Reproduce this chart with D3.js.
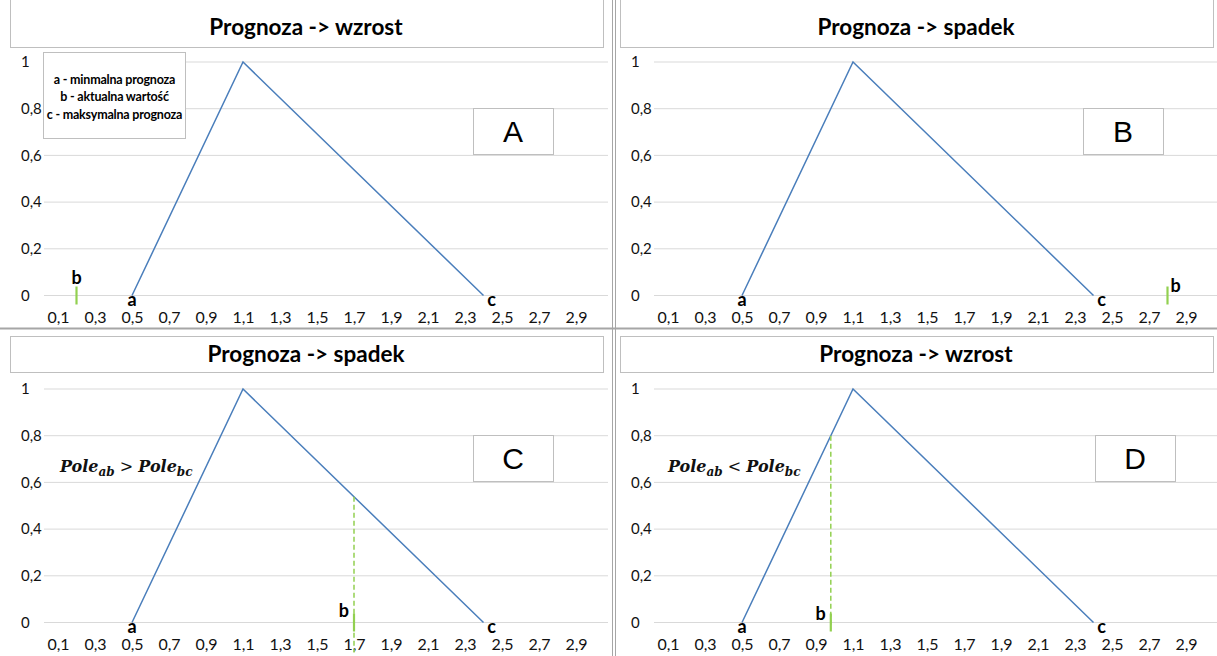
<!DOCTYPE html>
<html><head><meta charset="utf-8">
<script src="https://cdn.jsdelivr.net/npm/d3@7"></script>
<style>
body{margin:0;background:#fff;}
svg{display:block;font-family:Lato,"Open Sans",sans-serif;}
</style></head><body>
<svg id="chart" width="1217" height="656"></svg>
<script>
// Four triangular forecast charts (a = min, peak, c = max) with the current value b.
const panelTitles = ["Prognoza -> wzrost", "Prognoza -> spadek", "Prognoza -> spadek", "Prognoza -> wzrost"];
const panelLetters = ["A", "B", "C", "D"];
const curveX = [0.5, 1.1, 2.4];
const curveY = [0, 1, 0];
const pointNames = ["a", "", "c"];
const bValues = [0.2, 2.8, 1.7, 0.98];
const bDropLine = [false, false, true, true];
const xTickValues = [0.1, 0.3, 0.5, 0.7, 0.9, 1.1, 1.3, 1.5, 1.7, 1.9, 2.1, 2.3, 2.5, 2.7, 2.9];
const yTickValues = [0, 0.2, 0.4, 0.6, 0.8, 1];
const legendLines = ["a - minmalna prognoza", "b - aktualna wartość", "c - maksymalna prognoza"];
const poleRelations = [null, null, ">", "<"];

const svg = d3.select("#chart");
const comma = d => String(d).replace(".", ",");

const x = d3.scaleLinear().domain([0.1, 2.9]).range([58, 576]);
const y = d3.scaleLinear().domain([0, 1]).range([295.5, 62]);
const y0 = y(0);

// curve value at an arbitrary x (piecewise linear between the points)
function curveAt(v) {
  for (let i = 0; i < curveX.length - 1; i++) {
    if (v >= curveX[i] && v <= curveX[i + 1]) {
      const t = (v - curveX[i]) / (curveX[i + 1] - curveX[i]);
      return curveY[i] + t * (curveY[i + 1] - curveY[i]);
    }
  }
  return 0;
}

const panels = [
  {dx: 0,   dy: 0,   titleTop: -2, titleH: 49, letterX: 473, bLabel: {dx: 0, dy: -11.5, anchor: "middle"}, dropBottom: 0},
  {dx: 610, dy: 0,   titleTop: -2, titleH: 49, letterX: 473, bLabel: {dx: 3, dy: -3.5, anchor: "start"}, dropBottom: 0},
  {dx: 0,   dy: 327, titleTop: 9,  titleH: 36, letterX: 473, bLabel: {dx: -5, dy: -5.5, anchor: "end"}, dropBottom: 30},
  {dx: 610, dy: 327, titleTop: 9,  titleH: 36, letterX: 485, bLabel: {dx: -5, dy: -2.5, anchor: "end"}, dropBottom: 6}
];

const green = "#92d050";
const blue = "#4a7ebb";

panels.forEach((p, i) => {
  const g = svg.append("g").attr("transform", `translate(${p.dx},${p.dy})`);

  // gridlines
  g.append("g").selectAll("line").data(yTickValues).join("line")
    .attr("x1", 44).attr("x2", 608)
    .attr("y1", d => y(d)).attr("y2", d => y(d))
    .attr("stroke", "#d9d9d9").attr("stroke-width", 1);

  // triangular curve
  const pts = curveX.map((v, k) => [v, curveY[k]]);
  g.append("path").datum(pts)
    .attr("d", d3.line().x(d => x(d[0])).y(d => y(d[1])))
    .attr("fill", "none").attr("stroke", blue).attr("stroke-width", 1.5);

  // legend
  if (i === 0) {
    g.append("rect").attr("x", 43.5).attr("y", 52.5).attr("width", 142).attr("height", 86)
      .attr("fill", "#fff").attr("stroke", "#bfbfbf");
    g.append("g").selectAll("text").data(legendLines).join("text")
      .attr("x", 114.5).attr("y", (d, k) => 83.5 + k * 17.5)
      .attr("text-anchor", "middle").attr("font-weight", 700).attr("font-size", 12.5)
      .attr("letter-spacing", -0.2).text(d => d);
  }

  // y axis labels
  const ya = g.append("g").attr("transform", "translate(21,0)")
    .call(d3.axisLeft(y).tickValues(yTickValues).tickSize(0).tickFormat(comma));
  ya.select(".domain").remove();
  ya.selectAll("text").attr("x", 0).attr("text-anchor", "start")
    .attr("font-family", "Lato, sans-serif").attr("font-size", 15).attr("fill", "#111");

  // x axis labels
  const xa = g.append("g").attr("transform", `translate(0,${y0 + 16})`)
    .call(d3.axisBottom(x).tickValues(xTickValues).tickSize(0).tickPadding(0).tickFormat(comma));
  xa.select(".domain").remove();
  xa.selectAll("text").attr("dy", "0.72em")
    .attr("font-family", "Lato, sans-serif").attr("font-size", 16).attr("fill", "#111");

  // title box
  g.append("rect").attr("x", 10.5).attr("y", p.titleTop + 0.5).attr("width", 593).attr("height", p.titleH)
    .attr("fill", "#fff").attr("stroke", "#bfbfbf");
  g.append("text").attr("x", 306).attr("y", 35)
    .attr("text-anchor", "middle").attr("font-weight", 700).attr("font-size", 22.5)
    .text(panelTitles[i]);

  // a / c labels
  g.append("text").attr("x", x(curveX[0])).attr("y", y0 + 10.5)
    .attr("text-anchor", "middle").attr("font-weight", 700).attr("font-size", 18).text(pointNames[0]);
  g.append("text").attr("x", x(curveX[2]) + 8).attr("y", y0 + 10)
    .attr("text-anchor", "middle").attr("font-weight", 700).attr("font-size", 18).text(pointNames[2]);

  // current value b
  const bx = x(bValues[i]);
  if (bDropLine[i]) {
    g.append("line").attr("x1", bx).attr("x2", bx)
      .attr("y1", y(curveAt(bValues[i]))).attr("y2", y0 + p.dropBottom)
      .attr("stroke", green).attr("stroke-width", 1.5).attr("stroke-dasharray", "5,3");
  }
  g.append("line").attr("x1", bx).attr("x2", bx)
    .attr("y1", y0 - 9).attr("y2", y0 + 9)
    .attr("stroke", green).attr("stroke-width", 2.2);
  g.append("text").attr("x", bx + p.bLabel.dx).attr("y", y0 + p.bLabel.dy)
    .attr("text-anchor", p.bLabel.anchor).attr("font-weight", 700).attr("font-size", 18).text("b");

  // letter box
  g.append("rect").attr("x", p.letterX + 0.5).attr("y", 108.5).attr("width", 80).attr("height", 46)
    .attr("fill", "#fff").attr("stroke", "#bfbfbf");
  g.append("text").attr("x", p.letterX + 40).attr("y", 142)
    .attr("text-anchor", "middle").attr("font-family", "'Liberation Sans', Arial, sans-serif")
    .attr("font-size", 30).text(panelLetters[i]);

  // area comparison
  if (poleRelations[i]) {
    const t = g.append("text").attr("x", i === 2 ? 60 : 58).attr("y", 145)
      .attr("font-family", "'DejaVu Serif', serif").attr("font-style", "italic")
      .attr("font-weight", 700).attr("font-size", 16).attr("fill", "#111");
    t.append("tspan").text("Pole");
    t.append("tspan").attr("font-size", 12).attr("dy", 4).text("ab");
    t.append("tspan").attr("dy", -4).attr("font-style", "normal").attr("font-weight", 400).text(" " + poleRelations[i] + " ");
    t.append("tspan").text("Pole");
    t.append("tspan").attr("font-size", 12).attr("dy", 4).text("bc");
  }
});

// panel separators
svg.append("line").attr("x1", 0).attr("x2", 1217).attr("y1", 328.5).attr("y2", 328.5)
  .attr("stroke", "#a6a6a6").attr("stroke-width", 2);
svg.append("line").attr("x1", 612.5).attr("x2", 612.5).attr("y1", 0).attr("y2", 656)
  .attr("stroke", "#a6a6a6").attr("stroke-width", 1);
svg.append("line").attr("x1", 615.5).attr("x2", 615.5).attr("y1", 0).attr("y2", 656)
  .attr("stroke", "#a6a6a6").attr("stroke-width", 1);
</script>
</body></html>
